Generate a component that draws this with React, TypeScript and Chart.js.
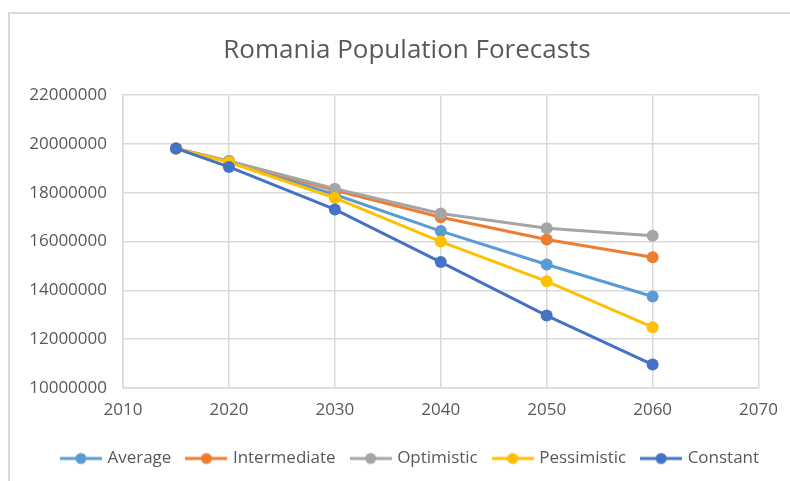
import React, { useEffect, useRef } from "react";
import { Chart, registerables } from "chart.js";

Chart.register(...registerables);

const years = [2015, 2020, 2030, 2040, 2050, 2060];
const average = [19820000, 19280000, 17930000, 16430000, 15060000, 13750000];
const intermediate = [19820000, 19300000, 18100000, 17000000, 16090000, 15360000];
const optimistic = [19820000, 19300000, 18170000, 17150000, 16550000, 16240000];
const pessimistic = [19820000, 19250000, 17790000, 16000000, 14370000, 12490000];
const constant = [19820000, 19060000, 17320000, 15160000, 12970000, 10960000];

const seriesNames = ["Average", "Intermediate", "Optimistic", "Pessimistic", "Constant"];
const seriesColors = ["#5B9BD5", "#ED7D31", "#A5A5A5", "#FFC000", "#4472C4"];
const seriesValues = [average, intermediate, optimistic, pessimistic, constant];

const xTicks = [2010, 2020, 2030, 2040, 2050, 2060, 2070];
const yMin = 10000000;
const yMax = 22000000;
const yStep = 2000000;

const FONT = "'Open Sans', 'Noto Sans', sans-serif";
const TEXT = "#595959";
const GRID = "#d9d9d9";

// Legend marker: short line with a dot in the middle
function makeMarker(color: string): HTMLCanvasElement {
  const c = document.createElement("canvas");
  c.width = 42;
  c.height = 14;
  const ctx = c.getContext("2d")!;
  ctx.strokeStyle = color;
  ctx.lineWidth = 3;
  ctx.beginPath();
  ctx.moveTo(0, 7);
  ctx.lineTo(42, 7);
  ctx.stroke();
  ctx.fillStyle = color;
  ctx.beginPath();
  ctx.arc(21, 7, 5.5, 0, Math.PI * 2);
  ctx.fill();
  return c;
}

// White background, light outer frame, and a slight rightward nudge of title and legend
const framePlugin = {
  id: "frame",
  afterLayout(chart: any) {
    if (chart.legend) {
      chart.legend.left += 10;
      chart.legend.right += 10;
    }
    if (chart.titleBlock) {
      chart.titleBlock.left += 6;
      chart.titleBlock.right += 6;
    }
  },
  beforeDraw(chart: any) {
    const ctx = chart.ctx;
    ctx.save();
    ctx.fillStyle = "#ffffff";
    ctx.fillRect(0, 0, chart.width, chart.height);
    ctx.strokeStyle = GRID;
    ctx.lineWidth = 2;
    ctx.strokeRect(9, 13, chart.width + 20, chart.height + 20);
    ctx.restore();
  },
};

export default function App() {
  const ref = useRef<HTMLCanvasElement>(null);

  useEffect(() => {
    const markers = seriesColors.map(makeMarker);
    const datasets = seriesNames.map((name, i) => ({
      label: name,
      data: years.map((y, j) => ({ x: y, y: seriesValues[i][j] })),
      borderColor: seriesColors[i],
      backgroundColor: seriesColors[i],
      pointBackgroundColor: seriesColors[i],
      pointBorderColor: seriesColors[i],
      pointRadius: 6,
      pointBorderWidth: 0,
      borderWidth: 3,
      order: seriesNames.length - i,
    }));

    const chart = new Chart(ref.current!, {
      type: "line",
      data: { datasets },
      plugins: [framePlugin],
      options: {
        animation: false,
        responsive: false,
        layout: { padding: { left: 18, right: 6, top: 0, bottom: 4 } },
        plugins: {
          tooltip: { enabled: false },
          title: {
            display: true,
            text: "Romania Population Forecasts",
            color: TEXT,
            font: { family: FONT, size: 26, weight: "normal" },
            padding: { top: 35, bottom: 29 },
          },
          legend: {
            position: "bottom",
            labels: {
              color: TEXT,
              font: { family: FONT, size: 17 },
              usePointStyle: true,
              pointStyleWidth: 36,
              padding: 17,
              generateLabels: (chart: any) =>
                chart.data.datasets.map((ds: any, i: number) => ({
                  text: ds.label,
                  fillStyle: seriesColors[i],
                  strokeStyle: seriesColors[i],
                  lineWidth: 0,
                  pointStyle: markers[i],
                  hidden: false,
                  datasetIndex: i,
                  fontColor: TEXT,
                })),
            },
          },
        },
        scales: {
          x: {
            type: "linear",
            min: 2010,
            max: 2070,
            afterBuildTicks: (s: any) => {
              s.ticks = xTicks.map((v) => ({ value: v }));
            },
            afterFit: (s: any) => {
              s.height = 45;
            },
            grid: { color: GRID, lineWidth: 1.5, drawTicks: false },
            border: { color: GRID, width: 1.5 },
            ticks: {
              color: TEXT,
              font: { family: FONT, size: 17 },
              padding: 12,
              callback: (v: any) => String(v),
            },
          },
          y: {
            type: "linear",
            min: yMin,
            max: yMax,
            afterFit: (s: any) => {
              s.width = 105;
            },
            grid: { color: GRID, lineWidth: 1.5, drawTicks: false },
            border: { color: GRID, width: 1.5 },
            ticks: {
              stepSize: yStep,
              color: TEXT,
              font: { family: FONT, size: 17 },
              padding: 16,
              callback: (v: any) => String(v),
            },
          },
          // empty spacer on the right edge of the plot
          spacer: {
            type: "linear",
            position: "right",
            grid: { display: false },
            border: { display: false },
            ticks: { display: false },
            afterFit: (s: any) => {
              s.width = 22;
            },
          },
        },
      },
    });
    return () => chart.destroy();
  }, []);

  return (
    <div style={{ position: "fixed", left: 0, top: 0, width: 790, height: 481 }}>
      <canvas ref={ref} width={790} height={481} style={{ display: "block" }} />
    </div>
  );
}
